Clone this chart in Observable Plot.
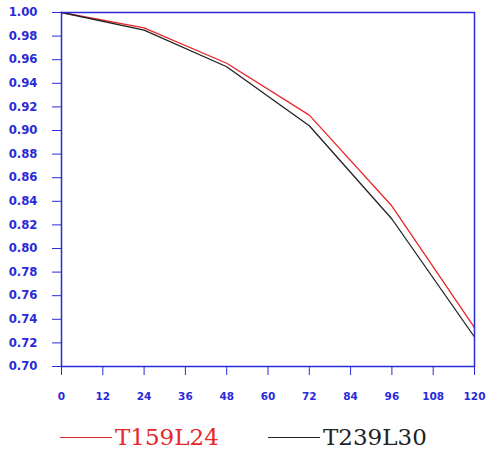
<!DOCTYPE html>
<html>
<head>
<meta charset="utf-8">
<script src="https://cdn.jsdelivr.net/npm/d3@7"></script>
<script src="https://cdn.jsdelivr.net/npm/@observablehq/plot@0.6"></script>
<style>
  body { margin: 0; background: #fff; }
  #wrap { position: relative; width: 488px; height: 449px; overflow: hidden; }
  #legend { position: absolute; left: 0; top: 420px; width: 488px; height: 34px; font-family: "DejaVu Serif", serif; font-size: 23px; }
  .item { position: absolute; top: 0; display: flex; align-items: center; height: 34px; }
  .swatch { display: inline-block; width: 52px; height: 0; border-top: 1.5px solid; margin-right: 3px; }
</style>
</head>
<body>
<div id="wrap"><div id="chart"></div><div id="legend"></div></div>
<script>
const hours = [0, 24, 48, 72, 96, 120];
const t159l24 = [1.000, 0.987, 0.957, 0.913, 0.836, 0.733];
const t239l30 = [1.000, 0.985, 0.954, 0.904, 0.825, 0.725];
const xTicks = [0, 12, 24, 36, 48, 60, 72, 84, 96, 108, 120];
const yTicks = [0.70, 0.72, 0.74, 0.76, 0.78, 0.80, 0.82, 0.84, 0.86, 0.88, 0.90, 0.92, 0.94, 0.96, 0.98, 1.00];
const seriesNames = ["T159L24", "T239L30"];
const seriesColors = ["#e8262a", "#222222"];

const blue = "#2a2ad8";
const rows = [];
hours.forEach((h, i) => {
  rows.push({hour: h, value: t159l24[i], series: seriesNames[0]});
  rows.push({hour: h, value: t239l30[i], series: seriesNames[1]});
});

const chart = Plot.plot({
  width: 488,
  height: 415,
  marginLeft: 61,
  marginRight: 14,
  marginTop: 12,
  marginBottom: 49,
  style: {fontFamily: "DejaVu Sans, sans-serif", fontSize: "12px", fontWeight: "bold", background: "#fff"},
  x: {domain: [0, 120]},
  y: {domain: [0.70, 1.00]},
  color: {domain: seriesNames, range: seriesColors},
  marks: [
    Plot.axisX({ticks: xTicks, tickSize: 9, tickPadding: 17, tickFormat: d => String(d), color: blue, fontSize: 10.5, label: null}),
    Plot.axisY({ticks: yTicks, tickSize: 9, tickPadding: 15, tickFormat: d3.format(".2f"), color: blue, fontSize: 11.7, label: null}),
    Plot.line(rows, {x: "hour", y: "value", z: "series", stroke: "series", strokeWidth: 1.3}),
    Plot.frame({stroke: blue, strokeWidth: 1.5})
  ]
});
document.getElementById("chart").appendChild(chart);

const legend = document.getElementById("legend");
const lefts = [60, 268];
seriesNames.forEach((name, i) => {
  const item = document.createElement("div");
  item.className = "item";
  item.style.left = lefts[i] + "px";
  item.style.color = seriesColors[i];
  const sw = document.createElement("span");
  sw.className = "swatch";
  sw.style.borderTopColor = seriesColors[i];
  item.appendChild(sw);
  item.appendChild(document.createTextNode(name));
  legend.appendChild(item);
});
</script>
</body>
</html>
